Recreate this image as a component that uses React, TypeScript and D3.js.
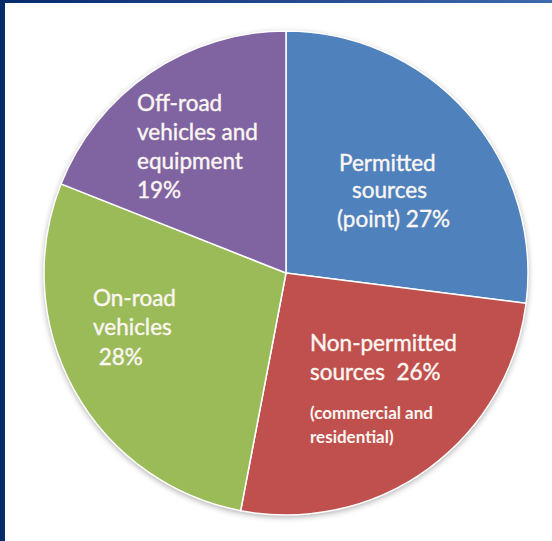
import React, { useRef, useEffect } from 'react';
import * as d3 from 'd3';

const categories = ['Permitted', 'Non-permitted', 'On-road', 'Off-road'];
const shares = [27, 26, 28, 19];
const sliceColors = ['#4f81bd', '#c0504d', '#9bbb59', '#8064a2'];
// label lines per slice, small = true for the fine print
const labelLines = [
  [['Permitted', false], ['sources', false], ['(point) 27%', false]],
  [['Non-permitted', false], ['sources  26%', false], ['(commercial and', true], ['residential)', true]],
  [['On-road', false], ['vehicles', false], [' 28%', false]],
  [['Off-road', false], ['vehicles and', false], ['equipment', false], ['19%', false]],
] as [string, boolean][][];

const W = 552;
const H = 541;

const App: React.FC = () => {
  const svgRef = useRef<SVGSVGElement | null>(null);

  useEffect(() => {
    if (!svgRef.current) return;
    const svg = d3.select(svgRef.current);
    svg.selectAll('*').remove();

    const cx = 286;
    const cy = 273;
    const r = 242;

    const defs = svg.append('defs');
    const grad = defs.append('linearGradient').attr('id', 'topbar').attr('x1', '0%').attr('x2', '100%');
    grad.append('stop').attr('offset', '0%').attr('stop-color', '#062a6c');
    grad.append('stop').attr('offset', '100%').attr('stop-color', '#4068ad');
    const f = defs.append('filter').attr('id', 'shadow').attr('x', '-10%').attr('y', '-10%').attr('width', '120%').attr('height', '120%');
    f.append('feGaussianBlur').attr('in', 'SourceAlpha').attr('stdDeviation', 3);
    f.append('feOffset').attr('dx', 0).attr('dy', 2).attr('result', 'b');
    f.append('feComponentTransfer').append('feFuncA').attr('type', 'linear').attr('slope', 0.35);
    const m = f.append('feMerge');
    m.append('feMergeNode');
    m.append('feMergeNode').attr('in', 'SourceGraphic');

    svg.append('rect').attr('width', W).attr('height', H).attr('fill', '#ffffff');
    svg.append('rect').attr('width', W).attr('height', 3).attr('fill', 'url(#topbar)');
    svg.append('rect').attr('width', 5).attr('height', H).attr('fill', '#062a6c');

    const pie = d3.pie<number>().sort(null).value(d => d);
    const arcs = pie(shares);
    const arc = d3.arc<d3.PieArcDatum<number>>().innerRadius(0).outerRadius(r);

    const g = svg.append('g').attr('transform', `translate(${cx},${cy})`);
    g.append('circle').attr('r', r).attr('fill', '#ffffff').attr('filter', 'url(#shadow)');
    g.selectAll('path.slice')
      .data(arcs)
      .enter()
      .append('path')
      .attr('class', 'slice')
      .attr('d', arc)
      .attr('fill', (_, i) => sliceColors[i])
      .attr('stroke', '#ffffff')
      .attr('stroke-width', 1.5);

    // text block anchors relative to the pie centre
    const anchors = [
      { x: [53, 66, 51], y: -110 },
      { x: [24, 24, 24, 24], y: 70 },
      { x: [-193, -193, -193], y: 25 },
      { x: [-149, -149, -149, -149], y: -170 },
    ];
    const lineSteps = [
      [0, 27, 29],
      [0, 29, 41, 24],
      [0, 29, 30],
      [0, 29, 29, 29],
    ];

    arcs.forEach((a, i) => {
      let y = anchors[i].y;
      labelLines[i].forEach(([txt, small], j) => {
        y += lineSteps[i][j];
        g.append('text')
          .attr('x', anchors[i].x[j])
          .attr('y', y)
          .attr('dy', '0.35em')
          .attr('fill', '#fbf6f2')
          .attr('stroke', '#fbf6f2')
          .attr('stroke-width', small ? 0 : 0.4)
          .attr('font-family', 'Lato, "Open Sans", sans-serif')
          .attr('font-size', small ? 17 : 22.5)
          .attr('font-weight', small ? 700 : 400)
          .style('white-space', 'pre')
          .text(txt)
          .append('title')
          .text(categories[i]);
      });
    });
  }, []);

  return (
    <svg
      ref={svgRef}
      width={W}
      height={H}
      style={{ position: 'absolute', left: 0, top: 0, display: 'block' }}
    />
  );
};

export default App;
